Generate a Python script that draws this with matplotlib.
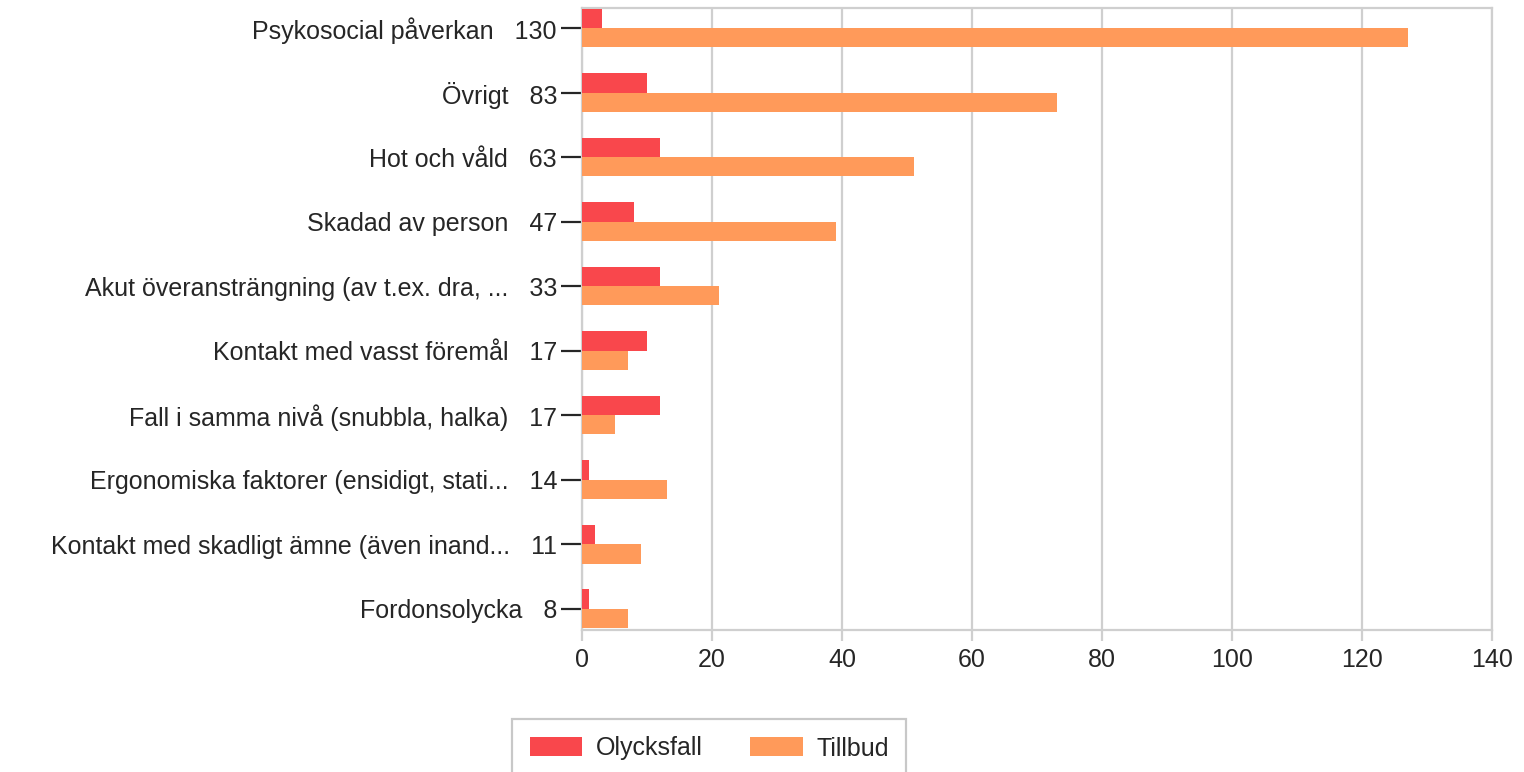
import numpy as np
import matplotlib
matplotlib.use("Agg")
import matplotlib.pyplot as plt

plt.rcParams['font.family'] = ['Liberation Sans', 'DejaVu Sans']

categories = [
    "Psykosocial påverkan",
    "Övrigt",
    "Hot och våld",
    "Skadad av person",
    "Akut överansträngning (av t.ex. dra, ...",
    "Kontakt med vasst föremål",
    "Fall i samma nivå (snubbla, halka)",
    "Ergonomiska faktorer (ensidigt, stati...",
    "Kontakt med skadligt ämne (även inand...",
    "Fordonsolycka",
]
olycksfall = [3, 10, 12, 8, 12, 10, 12, 1, 2, 1]
tillbud = [127, 73, 51, 39, 21, 7, 5, 13, 9, 7]
x_ticks = [0, 20, 40, 60, 80, 100, 120, 140]

red = '#F9474C'
orange = '#FF9A5A'
grid_col = '#CFCFCF'
text_col = '#262626'
fs = 18

totals = [a + b for a, b in zip(olycksfall, tillbud)]
labels = [f"{c}   {t}" for c, t in zip(categories, totals)]

fig = plt.figure(figsize=(15.24, 7.72), dpi=100)
ax = fig.add_axes([582 / 1524, 1 - 630 / 772, 910 / 1524, 622 / 772])

pos = np.arange(len(categories))
h = 0.3
ax.barh(pos - h / 2, olycksfall, height=h, color=red, label='Olycksfall', zorder=3)
ax.barh(pos + h / 2, tillbud, height=h, color=orange, label='Tillbud', zorder=3)

ax.set_xlim(0, 140)
ax.set_ylim(len(categories) - 1 + 0.33, -0.31)
ax.set_xticks(x_ticks)
ax.set_xticklabels([str(v) for v in x_ticks], fontsize=fs, color=text_col)
ax.set_yticks(pos)
ax.set_yticklabels(labels, fontsize=fs, color=text_col)

ax.grid(axis='x', color=grid_col, linewidth=1.6, zorder=0)
for s in ax.spines.values():
    s.set_color(grid_col)
    s.set_linewidth(1.6)
ax.tick_params(axis='y', length=15, width=1.6, color=text_col, pad=3)
ax.tick_params(axis='x', length=8, width=1.6, color=grid_col, pad=5)

leg = fig.legend(loc='upper left', bbox_to_anchor=(512 / 1524, 1 - 719 / 772),
                 borderaxespad=0, ncol=2, fontsize=fs, frameon=True, fancybox=False,
                 edgecolor='#BBBBBB', handlelength=2.1, handleheight=0.8,
                 columnspacing=1.9, handletextpad=0.55, borderpad=0.7)
leg.get_frame().set_linewidth(1.6)
for t in leg.get_texts():
    t.set_color(text_col)

fig.savefig('out.png', dpi=100)
